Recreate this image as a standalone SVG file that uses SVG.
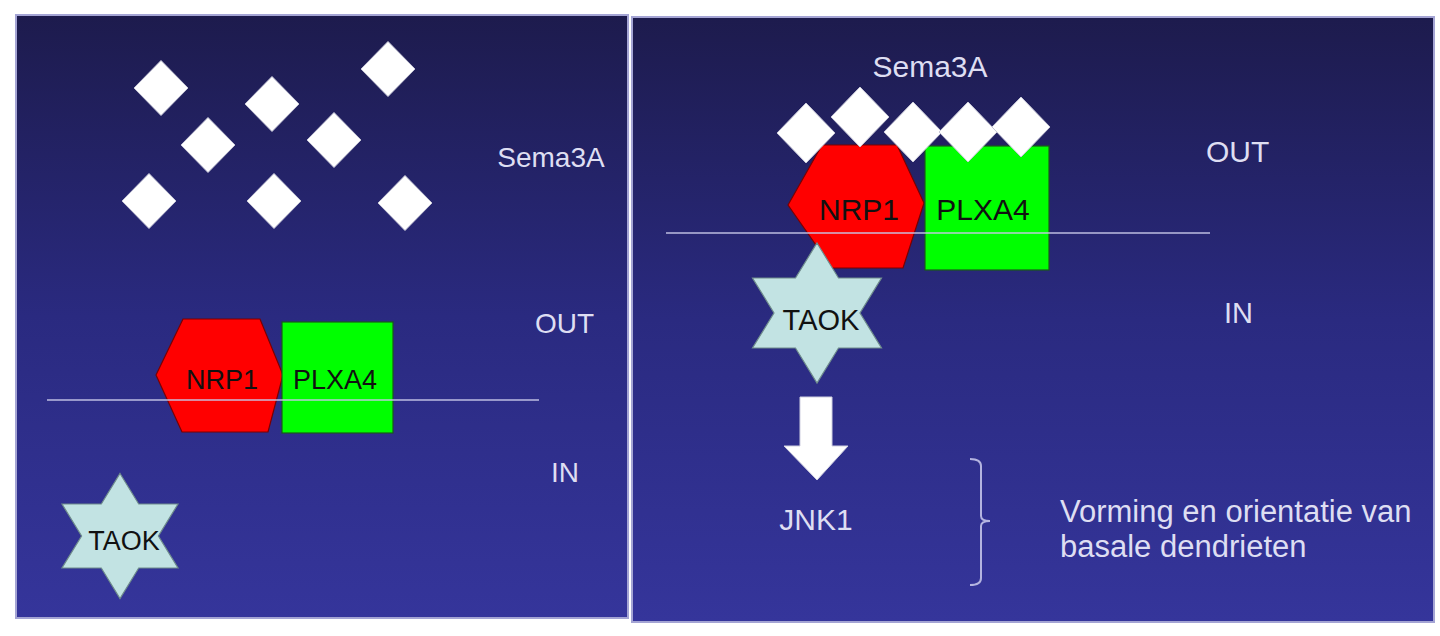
<svg xmlns="http://www.w3.org/2000/svg" width="1440" height="636" viewBox="0 0 1440 636">
  <defs>
    <linearGradient id="bg" x1="0" y1="0" x2="0" y2="1">
      <stop offset="0" stop-color="#1d1b4d"/>
      <stop offset="0.5" stop-color="#2a2a80"/>
      <stop offset="1" stop-color="#35359b"/>
    </linearGradient>
    <polygon id="dmL" points="0,-27.5 27,0 0,27.5 -27,0"/>
    <polygon id="dmR" points="0,-30 29,0 0,30 -29,0"/>
  </defs>
  <style>
    .panel { fill: url(#bg); stroke: #a4a4d4; stroke-width: 2; }
    .dia { fill: #ffffff; stroke: #c8c8d8; stroke-width: 1; }
    .lbl { font-family: "Liberation Sans", Arial, sans-serif; fill: #dedef2; }
    .ntxt { font-family: "Liberation Sans", Arial, sans-serif; fill: #111111; text-anchor: middle; }
    .nrp { fill: #ff0000; stroke: #7a0000; stroke-width: 1.2; }
    .plx { fill: #00ff00; stroke: #1a5a1a; stroke-width: 1.2; }
    .taok { fill: #c2e3e3; stroke: #6f8c8c; stroke-width: 1.2; }
    .mem { stroke: #c8c8e8; stroke-width: 2; stroke-opacity: 0.7; fill: none; }
  </style>
  <rect x="0" y="0" width="1440" height="636" fill="#ffffff"/>

  <!-- Left panel -->
  <rect class="panel" x="16" y="15" width="612" height="603"/>
  <!-- Right panel -->
  <rect class="panel" x="632" y="17" width="802" height="605"/>

  <!-- Left panel: free Sema3A -->
  <g id="sema3a-left">
    <use href="#dmL" class="dia" x="161" y="88"/>
    <use href="#dmL" class="dia" x="272" y="104"/>
    <use href="#dmL" class="dia" x="388" y="69"/>
    <use href="#dmL" class="dia" x="208" y="145"/>
    <use href="#dmL" class="dia" x="334" y="140"/>
    <use href="#dmL" class="dia" x="149" y="201"/>
    <use href="#dmL" class="dia" x="274" y="201"/>
    <use href="#dmL" class="dia" x="405" y="203"/>
    <text class="lbl" x="551" y="167" font-size="28" text-anchor="middle">Sema3A</text>
  </g>
  <g id="labels-left">
    <text class="lbl" x="535" y="333" font-size="28">OUT</text>
    <text class="lbl" x="551" y="482" font-size="28">IN</text>
  </g>
  <g id="nrp1-left">
    <polygon class="nrp" points="156,375 183,319 260,319 283,375 268,432 182,432"/>
    <text class="ntxt" x="222" y="389" font-size="27">NRP1</text>
  </g>
  <g id="plxa4-left">
    <rect class="plx" x="282" y="322" width="111" height="111"/>
    <text class="ntxt" x="335" y="389" font-size="27">PLXA4</text>
  </g>
  <g id="membrane-left">
    <line class="mem" x1="47" y1="400" x2="539" y2="400"/>
  </g>
  <g id="taok-left">
    <polygon class="taok" transform="translate(120,536)" points="0,-62.5 18.7,-32 58,-32 38.4,0 58,32 18.7,32 0,62.5 -18.7,32 -58,32 -38.4,0 -58,-32 -18.7,-32"/>
    <text class="ntxt" x="124" y="550" font-size="27">TAOK</text>
  </g>

  <!-- Right panel -->
  <g id="labels-right">
    <text class="lbl" x="1206" y="162" font-size="30">OUT</text>
    <text class="lbl" x="1224" y="323" font-size="29">IN</text>
  </g>
  <g id="nrp1-right">
    <polygon class="nrp" points="788,205 822,145 897,145 924,203 903,268 832,268"/>
    <text class="ntxt" x="859" y="220" font-size="30">NRP1</text>
  </g>
  <g id="plxa4-right">
    <rect class="plx" x="925" y="146" width="124" height="124"/>
    <text class="ntxt" x="983" y="220" font-size="30">PLXA4</text>
  </g>
  <g id="sema3a-right">
    <use href="#dmR" class="dia" x="806" y="133"/>
    <use href="#dmR" class="dia" x="860" y="117"/>
    <use href="#dmR" class="dia" x="913" y="132"/>
    <use href="#dmR" class="dia" x="968" y="132"/>
    <use href="#dmR" class="dia" x="1021" y="127"/>
    <text class="lbl" x="930" y="77" font-size="30" text-anchor="middle">Sema3A</text>
  </g>
  <g id="membrane-right">
    <line class="mem" x1="666" y1="233" x2="1210" y2="233"/>
  </g>
  <g id="taok-right">
    <polygon class="taok" transform="translate(817,313)" points="0,-70 21.5,-35 64.5,-35 43,0 64.5,35 21.5,35 0,70 -21.5,35 -64.5,35 -43,0 -64.5,-35 -21.5,-35"/>
    <text class="ntxt" x="821" y="330" font-size="29">TAOK</text>
  </g>
  <g id="jnk1">
    <text class="lbl" x="816" y="530" font-size="30" text-anchor="middle">JNK1</text>
  </g>
  <g id="outcome">
    <text class="lbl" x="1060" y="522" font-size="31">Vorming en orientatie van</text>
    <text class="lbl" x="1060" y="557" font-size="31">basale dendrieten</text>
  </g>

  <!-- Connectors -->
  <g id="connectors">
    <polygon points="800,397 832,397 832,446 848,446 817,480 784,446 800,446" fill="#ffffff" stroke="#d0d0e0" stroke-width="1"/>
    <path d="M970,459 Q981,459 981,466 L981,516 Q981,521 990,521 Q981,521 981,526 L981,578 Q981,585 970,585" fill="none" stroke="#b4b4e0" stroke-width="2"/>
  </g>
</svg>
